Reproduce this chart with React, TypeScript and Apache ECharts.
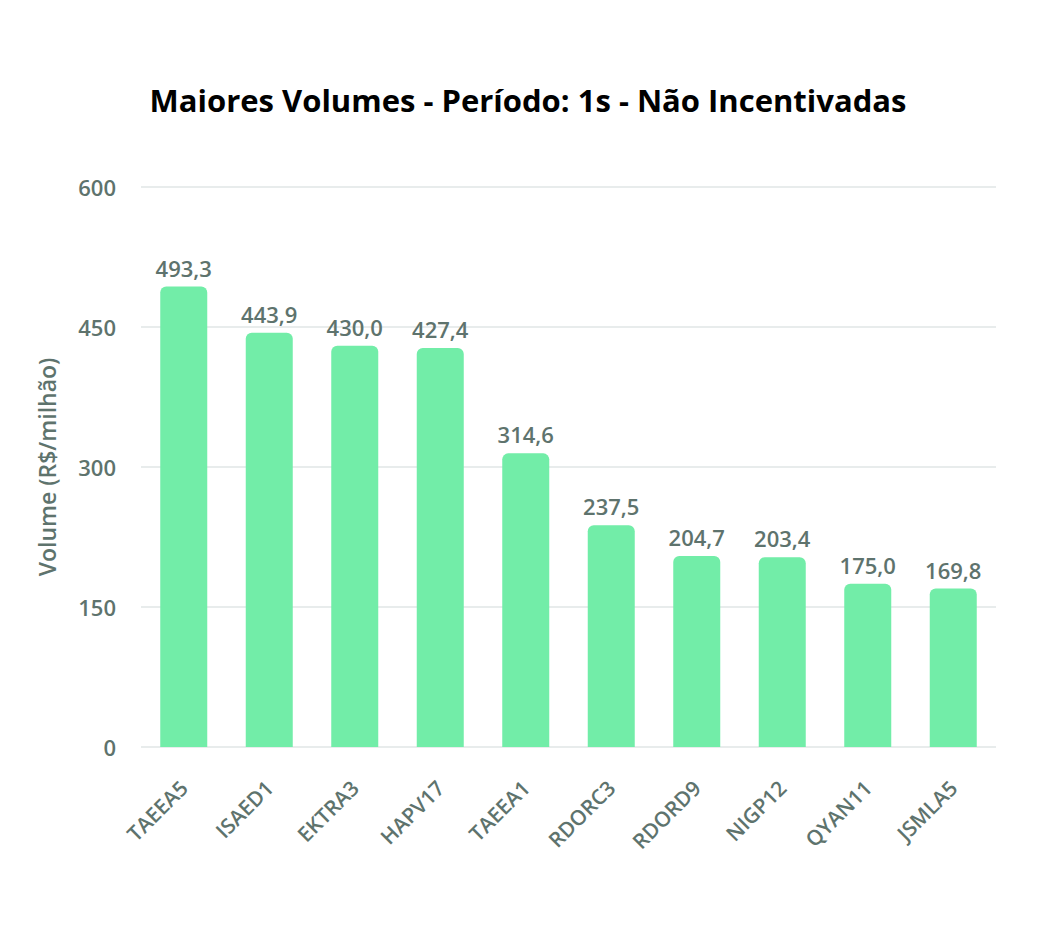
import React, { useEffect, useRef } from "react";
import * as echarts from "echarts";

const categories = ["TAEEA5", "ISAED1", "EKTRA3", "HAPV17", "TAEEA1", "RDORC3", "RDORD9", "NIGP12", "QYAN11", "JSMLA5"];
const volumes = [493.3, 443.9, 430.0, 427.4, 314.6, 237.5, 204.7, 203.4, 175.0, 169.8];
const yTicks = [0, 150, 300, 450, 600];

const TEXT = "#5e736d";
const FONT = "'Open Sans', Lato, sans-serif";

export default function App() {
  const ref = useRef<HTMLDivElement>(null);
  useEffect(() => {
    if (!ref.current) return;
    const chart = echarts.init(ref.current, undefined, { renderer: "svg" });
    chart.setOption({
      animation: false,
      backgroundColor: "#ffffff",
      title: {
        text: "Maiores Volumes - Período: 1s - Não Incentivadas",
        left: "center",
        top: 79,
        textStyle: { fontFamily: FONT, fontSize: 31, fontWeight: "bold", color: "#000000" },
      },
      grid: { left: 141, right: 60, top: 187, bottom: 201, containLabel: false },
      xAxis: {
        type: "category",
        data: categories,
        axisLine: { show: false },
        axisTick: { show: false },
        axisLabel: { rotate: 45, color: TEXT, fontFamily: FONT, fontSize: 21, fontWeight: 600, margin: 37, interval: 0 },
      },
      yAxis: {
        type: "value",
        min: yTicks[0],
        max: yTicks[yTicks.length - 1],
        interval: 150,
        name: "Volume (R$/milhão)",
        nameLocation: "middle",
        nameGap: 83,
        nameTextStyle: { color: TEXT, fontFamily: FONT, fontSize: 23, fontWeight: 600 },
        axisLabel: { color: TEXT, fontFamily: FONT, fontSize: 22, fontWeight: 600, margin: 25 },
        splitLine: { lineStyle: { color: "#e8ecec", width: 2 } },
        axisLine: { show: false },
        axisTick: { show: false },
      },
      series: [
        {
          type: "bar",
          data: volumes,
          barWidth: 47,
          itemStyle: { color: "#72eda8", borderRadius: [6, 6, 0, 0] },
          label: {
            show: true,
            position: "top",
            distance: 8,
            color: TEXT,
            fontFamily: FONT,
            fontSize: 22,
            fontWeight: 600,
            formatter: (p: any) => p.value.toFixed(1).replace(".", ","),
          },
        },
      ],
    });
    return () => chart.dispose();
  }, []);
  return <div ref={ref} style={{ position: "fixed", left: 0, top: 0, width: 1056, height: 948 }} />;
}
